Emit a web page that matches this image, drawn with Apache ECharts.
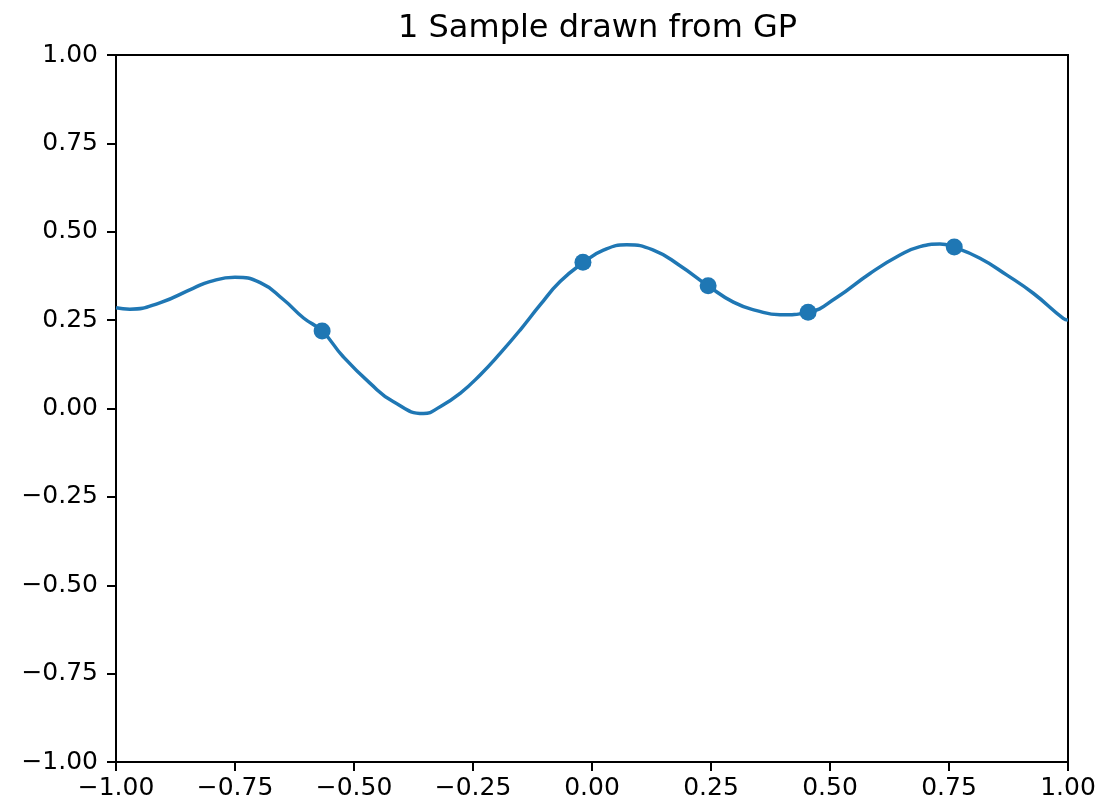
<!DOCTYPE html>
<html>
<head>
<meta charset="utf-8">
<title>1 Sample drawn from GP</title>
<script src="https://cdn.jsdelivr.net/npm/echarts@6/dist/echarts.min.js"></script>
<style>
  html, body { margin: 0; padding: 0; background: #fff; }
  #chart { width: 1107px; height: 812px; }
</style>
</head>
<body>
<div id="chart"></div>
<script>
var curveX = [-1.0, -0.971, -0.908, -0.838, -0.803, -0.750, -0.697, -0.649, -0.606, -0.567, -0.523, -0.466,
              -0.417, -0.354, -0.319, -0.277, -0.235, -0.193, -0.151, -0.109, -0.067, -0.018, 0.024, 0.073,
              0.129, 0.185, 0.244, 0.297, 0.346, 0.395, 0.454, 0.514, 0.584, 0.647, 0.689, 0.731, 0.761,
              0.815, 0.871, 0.927, 0.990, 1.0];
var curveY = [0.285, 0.281, 0.299, 0.340, 0.359, 0.371, 0.356, 0.309, 0.256, 0.219, 0.147, 0.071,
              0.019, -0.014, 0.005, 0.043, 0.095, 0.156, 0.222, 0.293, 0.359, 0.413, 0.448, 0.463,
              0.448, 0.404, 0.347, 0.301, 0.277, 0.265, 0.272, 0.314, 0.382, 0.434, 0.458, 0.465, 0.456,
              0.425, 0.378, 0.326, 0.255, 0.250];

// observed points
var pointX = [-0.567, -0.019, 0.244, 0.454, 0.761];
var pointY = [0.219, 0.414, 0.347, 0.272, 0.457];

var tickLabels = [-1.0, -0.75, -0.5, -0.25, 0.0, 0.25, 0.5, 0.75, 1.0];

var blue = '#1f77b4';
var fontFamily = '"DejaVu Sans", sans-serif';

function fmt(v) {
    return (v < 0 ? '\u2212' : '') + Math.abs(v).toFixed(2);
}

function pairs(xs, ys) {
    return xs.map(function (x, i) { return [x, ys[i]]; });
}

var chart = echarts.init(document.getElementById('chart'));

var axisCommon = {
    type: 'value',
    min: tickLabels[0],
    max: tickLabels[tickLabels.length - 1],
    interval: 0.25,
    axisLine: { show: true, onZero: false, lineStyle: { color: '#000', width: 2 } },
    axisTick: { show: true, inside: false, length: 9, lineStyle: { color: '#000', width: 2 } },
    axisLabel: { color: '#000', fontSize: 25, fontFamily: fontFamily, margin: 18, formatter: fmt },
    splitLine: { show: false }
};

chart.setOption({
    backgroundColor: '#fff',
    animation: false,
    title: {
        text: '1 Sample drawn from GP',
        left: 393,
        top: 8,
        textStyle: { color: '#000', fontSize: 32, fontWeight: 'normal', fontFamily: fontFamily }
    },
    grid: {
        left: 116, right: 39, top: 55, bottom: 50,
        show: true, borderColor: '#000', borderWidth: 2, backgroundColor: '#fff'
    },
    xAxis: Object.assign({}, axisCommon, {
        axisLabel: Object.assign({}, axisCommon.axisLabel, { margin: 14 })
    }),
    yAxis: Object.assign({}, axisCommon),
    series: [
        {
            type: 'line',
            data: pairs(curveX, curveY),
            smooth: 0.5,
            showSymbol: false,
            color: blue,
            lineStyle: { color: blue, width: 3.5 },
            z: 2
        },
        {
            type: 'scatter',
            data: pairs(pointX, pointY),
            symbolSize: 17,
            itemStyle: { color: blue, opacity: 1 },
            z: 3
        }
    ]
});
</script>
</body>
</html>
